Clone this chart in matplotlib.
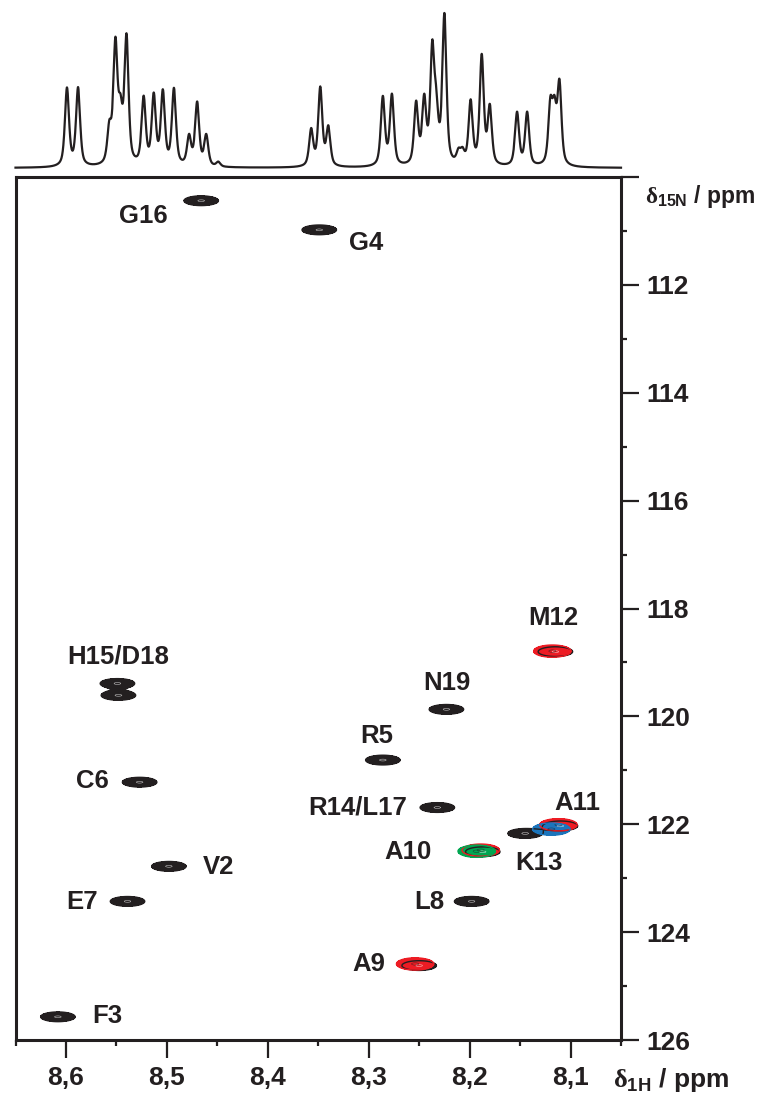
import matplotlib.pyplot as plt
import numpy as np

plt.rcParams['font.family'] = ['Liberation Sans', 'DejaVu Sans']
plt.rcParams['font.weight'] = 'bold'
plt.rcParams['mathtext.fontset'] = 'custom'
plt.rcParams['mathtext.rm'] = 'Liberation Serif'
plt.rcParams['mathtext.sf'] = 'Liberation Sans'
plt.rcParams['mathtext.bf'] = 'Liberation Sans:bold'

INK = '#231f20'

# 1H projection (ppm, peak height)
h1_shift = [8.599, 8.588, 8.557, 8.551, 8.546, 8.540, 8.523, 8.513, 8.504, 8.493,
            8.478, 8.470, 8.461, 8.449,
            8.357, 8.348, 8.340,
            8.286, 8.277, 8.253, 8.245, 8.237, 8.233, 8.225, 8.211, 8.207,
            8.199, 8.188, 8.180, 8.153, 8.143, 8.120, 8.116, 8.111]
h1_height = [205, 205, 90, 310, 120, 330, 175, 180, 190, 200,
             75, 165, 80, 12,
             95, 205, 100,
             180, 185, 160, 165, 290, 120, 390, 30, 30,
             165, 285, 150, 140, 140, 150, 130, 210]

# reference HSQC (black)
black_h = [8.466, 8.349, 8.549, 8.548, 8.527, 8.498, 8.539, 8.608, 8.115,
           8.223, 8.286, 8.232, 8.145, 8.110, 8.187, 8.198, 8.250]
black_n = [110.44, 110.98, 119.39, 119.61, 121.22, 122.78, 123.43, 125.57, 118.80,
           119.87, 120.81, 121.69, 122.17, 122.03, 122.51, 123.43, 124.62]

# titration series
red_h = [8.118, 8.112, 8.189, 8.254]
red_n = [118.79, 122.01, 122.48, 124.59]
green_h = [8.193]
green_n = [122.50]
blue_h = [8.119]
blue_n = [122.09]

label_text = ['G16', 'G4', 'H15/D18', 'C6', 'V2', 'E7', 'F3', 'M12', 'N19', 'R5',
              'R14/L17', 'A11', 'K13', 'A10', 'L8', 'A9']
label_h = [8.523, 8.303, 8.548, 8.574, 8.449, 8.584, 8.559, 8.117, 8.223, 8.292,
           8.311, 8.093, 8.131, 8.261, 8.240, 8.300]
label_n = [110.72, 111.22, 118.89, 121.20, 122.80, 123.44, 125.56, 118.17, 119.39, 120.37,
           121.69, 121.61, 122.72, 122.52, 123.44, 124.59]

x_ticks = [8.6, 8.5, 8.4, 8.3, 8.2, 8.1]
y_ticks = [110, 112, 114, 116, 118, 120, 122, 124, 126]


def spectrum_1d(x, w=0.0024, eta=0.6):
    # pseudo-Voigt lines
    y = np.zeros_like(x)
    for p, h in zip(h1_shift, h1_height):
        d = (x - p) / w
        y += h * (eta / (1 + d ** 2) + (1 - eta) * np.exp(-np.log(2) * d ** 2))
    return y


def spectrum_2d(X, Y, hs, ns, sx, sy):
    Z = np.zeros_like(X)
    for h, n in zip(hs, ns):
        Z += np.exp(-0.5 * (((X - h) / sx) ** 2 + ((Y - n) / sy) ** 2))
    return Z


def draw_peaks(ax, X, Y, hs, ns, color, sx, sy, core):
    Z = spectrum_2d(X, Y, hs, ns, sx, sy)
    ax.contourf(X, Y, Z, levels=[0.35, 50], colors=[color])
    ax.contour(X, Y, Z, levels=[0.35], colors=[color], linewidths=1.0)
    ax.contour(X, Y, Z, levels=[0.96], colors=[core], linewidths=0.4, alpha=0.7)


fig = plt.figure(figsize=(7.66, 10.95), dpi=100)
W, H = 766.0, 1095.0
ax = fig.add_axes([15.5 / W, 1 - 1040 / H, 605.5 / W, 863 / H])
ax1d = fig.add_axes([15.5 / W, 1 - 168 / H, 605.5 / W, 160 / H])

# projection on top
xs = np.linspace(8.05, 8.65, 4000)
ys = spectrum_1d(xs)
ax1d.plot(xs, ys, color=INK, lw=1.6, clip_on=False)
ax1d.set_xlim(8.65, 8.05)
ax1d.set_ylim(0, ys.max() * 160 / 155)
ax1d.axis('off')

# 2D map
X, Y = np.meshgrid(np.linspace(8.05, 8.65, 1400), np.linspace(110, 126, 1200))
draw_peaks(ax, X, Y, black_h, black_n, INK, 0.0118, 0.062, 'white')
draw_peaks(ax, X, Y, red_h, red_n, '#ed1c24', 0.0128, 0.078, INK)
draw_peaks(ax, X, Y, green_h, green_n, '#00a651', 0.0128, 0.078, INK)
draw_peaks(ax, X, Y, blue_h, blue_n, '#1b75bc', 0.0128, 0.078, INK)

for t, h, n in zip(label_text, label_h, label_n):
    ax.text(h, n, t, ha='center', va='center', fontsize=18.5, fontweight='bold', color=INK)

ax.set_xlim(8.65, 8.05)
ax.set_ylim(126, 110)

for s in ax.spines.values():
    s.set_linewidth(2.2)
    s.set_color(INK)

ax.set_xticks(x_ticks)
ax.set_xticklabels([('%.1f' % v).replace('.', ',') for v in x_ticks])
ax.set_xticks(np.arange(8.05, 8.70, 0.1), minor=True)
ax.set_yticks(y_ticks)
ax.set_yticklabels([''] + [str(v) for v in y_ticks[1:]])
ax.set_yticks(np.arange(111, 126, 2), minor=True)

ax.tick_params(axis='x', which='major', direction='out', length=13, width=1.6,
               labelsize=19, pad=6, colors=INK)
ax.tick_params(axis='x', which='minor', direction='out', length=4.5, width=1.6, colors=INK)
ax.tick_params(axis='y', which='major', direction='out', length=13, width=1.6,
               labelsize=19, pad=5, colors=INK, left=False, right=True,
               labelleft=False, labelright=True)
ax.tick_params(axis='y', which='minor', direction='out', length=4.5, width=1.6,
               colors=INK, left=False, right=True)

# axis titles
fig.text(613 / W, 1 - 1080 / H, r'$\mathrm{\delta}_{\mathsf{1}\mathbf{H}}$ / ppm',
         ha='left', va='center', fontsize=19, fontweight='bold', color=INK)
fig.text(645 / W, 1 - 196 / H, r'$\mathrm{\delta}_{\mathsf{15}\mathbf{N}}$ / ppm',
         ha='left', va='center', fontsize=16.5, fontweight='bold', color=INK)

plt.savefig('out.png', dpi=100)
